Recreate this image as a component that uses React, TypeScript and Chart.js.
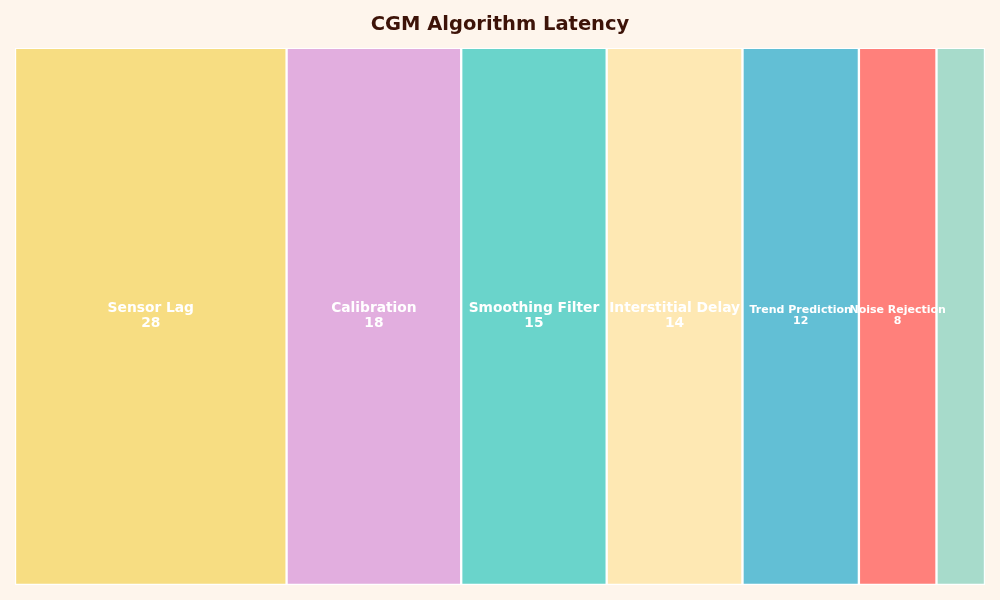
import React, { useEffect, useRef } from "react";
import { Chart, registerables } from "chart.js";

Chart.register(...registerables);

const categories = ["Sensor Lag", "Calibration", "Smoothing Filter", "Interstitial Delay", "Trend Prediction", "Noise Rejection", "Transmission"];
const values = [28, 18, 15, 14, 12, 8, 5];
const colors = ["#f7dd82", "#e2aedf", "#6ad4cb", "#fee8b3", "#62bfd5", "#ff807b", "#a7dbcb"];
const titleText = "CGM Algorithm Latency";

const labelPlugin = {
  id: "segLabels",
  afterDatasetsDraw(chart: any) {
    const ctx = chart.ctx;
    chart.data.datasets.forEach((ds: any, i: number) => {
      const meta = chart.getDatasetMeta(i);
      const el = meta.data[0];
      if (!el) return;
      const p = el.getProps(["x", "y", "base", "height"], true);
      const w = Math.abs(p.x - p.base);
      if (w < 60) return;
      const cx = (p.x + p.base) / 2;
      const cy = p.y - 1;
      const v = ds.data[0];
      const big = v >= 14;
      const fs = big ? 13.8 : 11;
      const gap = big ? 15 : 11;
      ctx.save();
      ctx.fillStyle = "#ffffff";
      ctx.textAlign = "center";
      ctx.textBaseline = "middle";
      ctx.font = `bold ${fs}px "DejaVu Sans", sans-serif`;
      ctx.fillText(ds.label, cx, cy - gap / 2);
      ctx.fillText(String(v), cx, cy + gap / 2);
      ctx.restore();
    });
  },
};

export default function App() {
  const ref = useRef<HTMLCanvasElement | null>(null);
  useEffect(() => {
    document.body.style.margin = "0";
    const chart = new Chart(ref.current as HTMLCanvasElement, {
      type: "bar",
      data: {
        labels: ["Latency"],
        datasets: categories.map((c, i) => ({
          label: c,
          data: [values[i]],
          backgroundColor: colors[i],
          borderColor: "#ffffff",
          borderWidth: 1.5,
          borderSkipped: false,
          categoryPercentage: 1,
          barPercentage: 1,
        })),
      },
      options: {
        indexAxis: "y",
        animation: false,
        responsive: false,
        maintainAspectRatio: false,
        layout: { padding: { left: 15, right: 15, bottom: 15, top: 0 } },
        scales: {
          x: { stacked: true, min: 0, max: 100, display: false },
          y: { stacked: true, display: false },
        },
        plugins: {
          legend: { display: false },
          tooltip: { enabled: false },
          title: {
            display: true,
            text: titleText,
            color: "#3d1308",
            font: { size: 19.5, weight: "bold", family: '"DejaVu Sans", sans-serif', lineHeight: 1.2 },
            padding: { top: 13, bottom: 11.5 },
          },
        },
      },
      plugins: [labelPlugin],
    } as any);
    return () => chart.destroy();
  }, []);
  return (
    <div style={{ position: "fixed", left: 0, top: 0, width: 1000, height: 600, background: "#fef5ec" }}>
      <canvas ref={ref} width={1000} height={600} style={{ width: 1000, height: 600 }} />
    </div>
  );
}
